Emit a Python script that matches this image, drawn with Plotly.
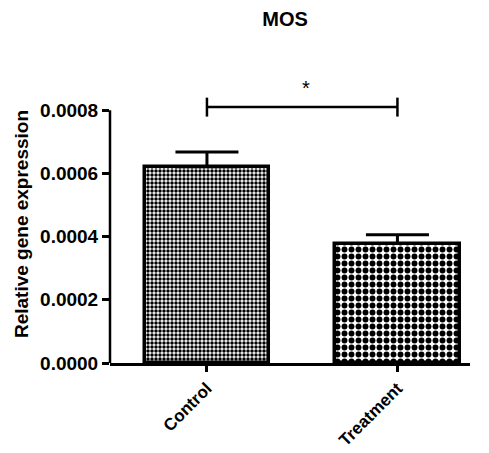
import plotly.graph_objects as go

# ---- data ----
categories = ["Control", "Treatment"]
means = [0.000621, 0.000378]
sems = [0.000047, 0.000028]
y_ticks = [0.0, 0.0002, 0.0004, 0.0006, 0.0008]
sig_level = 0.00081
sig_label = "*"
title_text = "MOS"
y_title = "Relative gene expression"

FONT = "Liberation Sans, Arial, sans-serif"
xpos = list(range(len(categories)))
W, H = 481, 445

fig = go.Figure()

pattern_sizes = [4, 7]
pattern_solidity = [0.6, 0.55]
for i, (cat, m, s) in enumerate(zip(categories, means, sems)):
    fig.add_trace(go.Bar(
        x=[xpos[i]], y=[m], width=0.652,
        marker=dict(
            color="white",
            line=dict(color="black", width=3.5),
            pattern=dict(shape=".", size=pattern_sizes[i], solidity=pattern_solidity[i],
                         fgcolor="black", bgcolor="white", fillmode="replace"),
        ),
        error_y=dict(type="data", array=[s], arrayminus=[0], symmetric=False,
                     color="black", thickness=3, width=31.5),
        showlegend=False, name=cat,
    ))

# significance bracket
cap = 0.00003
fig.add_trace(go.Scatter(
    x=[xpos[0], xpos[0], None, xpos[0], xpos[1], None, xpos[1], xpos[1]],
    y=[sig_level + cap, sig_level - cap, None, sig_level, sig_level, None,
       sig_level + cap, sig_level - cap],
    mode="lines", line=dict(color="black", width=2.5),
    showlegend=False, hoverinfo="skip",
))
fig.add_annotation(x=(xpos[0] + xpos[1]) / 2, y=sig_level, text=sig_label,
                   showarrow=False, xshift=4, yshift=19,
                   font=dict(family=FONT, size=20, color="black"))

# y-axis line only up to top tick
fig.add_shape(type="line", xref="paper", yref="y", x0=0, x1=0,
              y0=y_ticks[0], y1=y_ticks[-1], line=dict(color="black", width=2.5))

fig.update_layout(
    width=W, height=H,
    margin=dict(l=102, r=19, t=77, b=90),
    plot_bgcolor="white", paper_bgcolor="white",
    bargap=0,
    title=dict(text=title_text, x=277 / W, xanchor="center", xref="container",
               y=1 - 4 / H, yanchor="top", yref="container", pad=dict(t=0, b=0),
               font=dict(family=FONT, size=20, color="black", weight="bold")),
    xaxis=dict(
        range=[-0.509, 1.381], tickvals=xpos, ticktext=categories,
        tickangle=-45, showgrid=False, zeroline=False, automargin=False,
        showline=True, linecolor="black", linewidth=2.5,
        ticks="outside", ticklen=6, tickwidth=2.5, tickcolor="black",
        tickfont=dict(family=FONT, size=17, color="black", weight="bold"),
    ),
    yaxis=dict(
        range=[0, 0.00088], tickvals=y_ticks, tickformat=".4f",
        showgrid=False, zeroline=False, showline=False, automargin=False,
        ticks="outside", ticklen=7, tickwidth=2.5, tickcolor="black",
        tickfont=dict(family=FONT, size=19, color="black", weight="bold"),
        title=dict(text=y_title, standoff=6,
                   font=dict(family=FONT, size=19, color="black", weight="bold")),
    ),
)

fig.write_html("out.html")
